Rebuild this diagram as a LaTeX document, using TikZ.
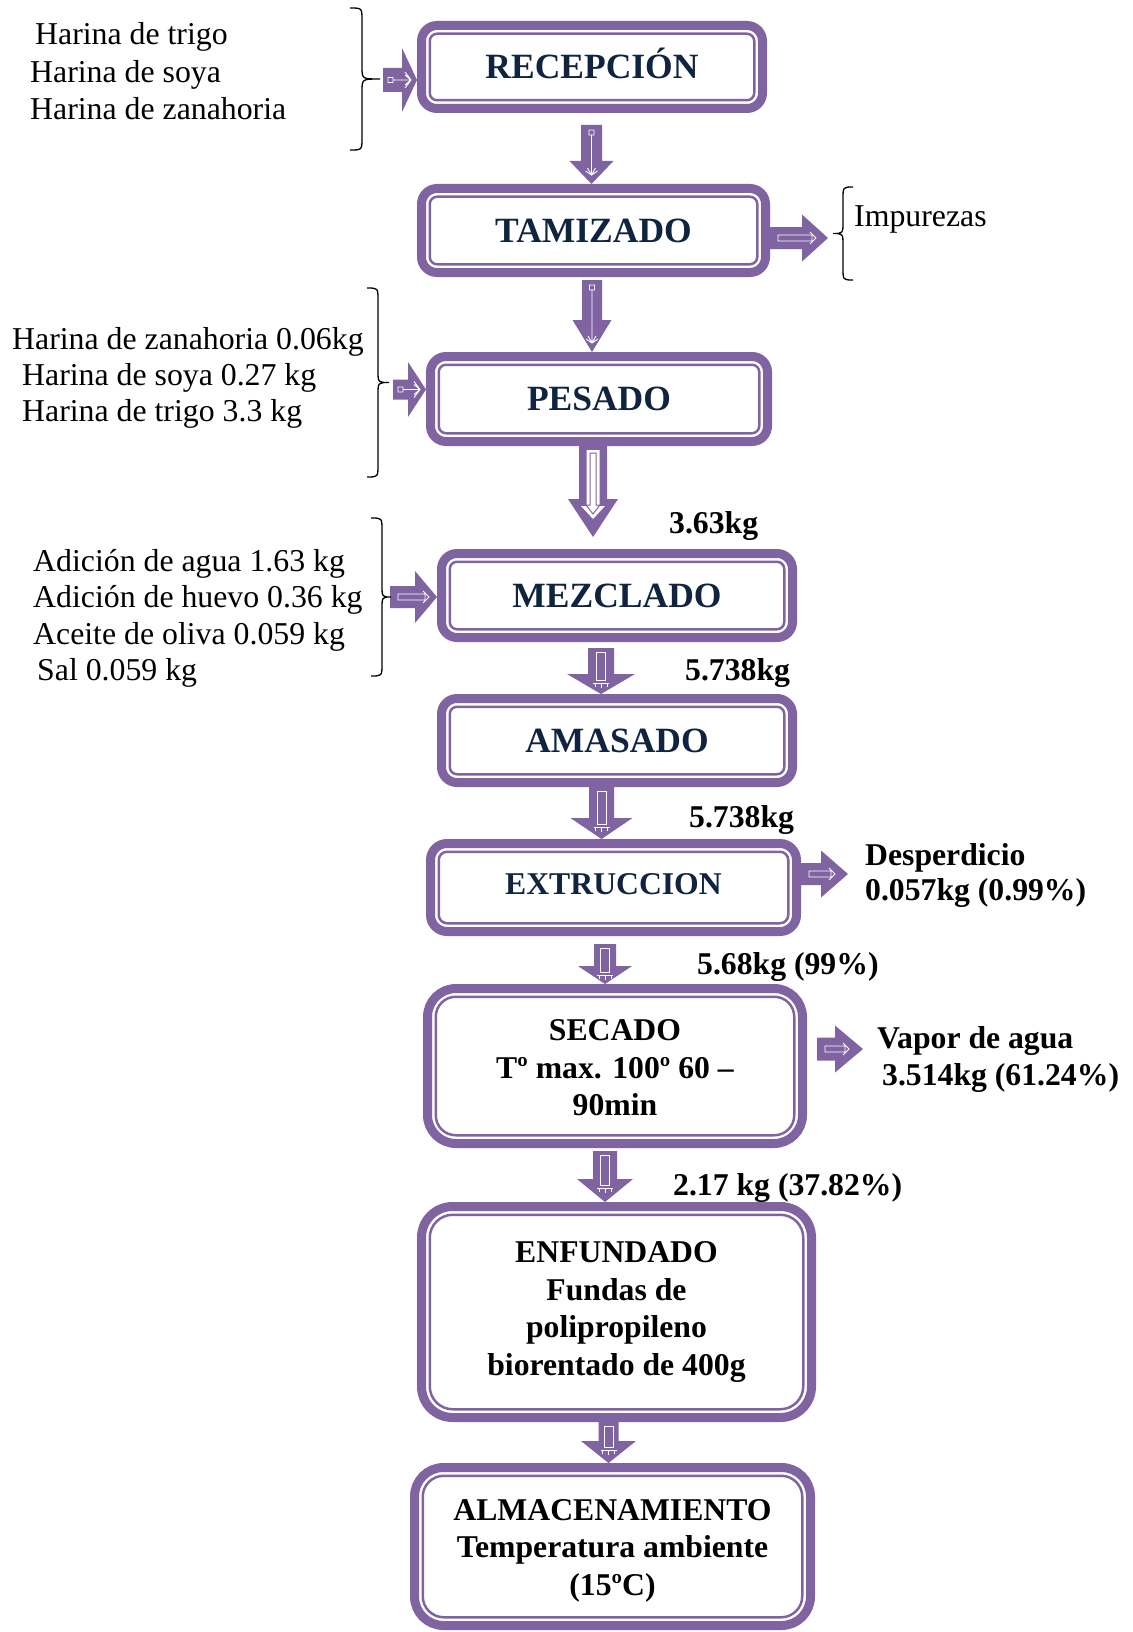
\documentclass[tikz,border=0pt]{standalone}
\usepackage{fontspec}
\setmainfont{Liberation Serif}
\usetikzlibrary{calc}

\definecolor{flowpurple}{HTML}{8064A2}
\definecolor{titleblue}{HTML}{10243F}

% block arrow pointing down: #1 tail (top centre of the shaft), #2 point giving the tip height,
% #3 shaft half-width, #4 head half-width, #5 head length
\newcommand{\blockdown}[5]{%
  \fill[flowfill] let \p1=(#1), \p2=(#2) in
    (\x1-#3,\y1) -- (\x1+#3,\y1) -- (\x1+#3,\y2+#5) -- (\x1+#4,\y2+#5)
    -- (\x1,\y2) -- (\x1-#4,\y2+#5) -- (\x1-#3,\y2+#5) -- cycle;}
% block arrow pointing right: #1 tail (left centre of the shaft), #2 point giving the tip abscissa
\newcommand{\blockright}[5]{%
  \fill[flowfill] let \p1=(#1), \p2=(#2) in
    (\x1,\y1+#3) -- (\x2-#5,\y1+#3) -- (\x2-#5,\y1+#4) -- (\x2,\y1)
    -- (\x2-#5,\y1-#4) -- (\x2-#5,\y1-#3) -- (\x1,\y1-#3) -- cycle;}

% fine white spine with a small square tail and a barbed end
\newcommand{\finelinedown}[2]{%
  \draw[spine] let \p1=(#1), \p2=(#2) in
    (\x1-2.5pt,\y1-5pt) rectangle (\x1+2.5pt,\y1-10pt)
    (\x1,\y1-10pt) -- (\x1,\y2+9pt)
    (\x1-4pt,\y2+16pt) -- (\x1,\y2+9pt) -- (\x1+4pt,\y2+16pt)
    (\x1-6pt,\y2+13pt) -- (\x1,\y2+9pt) -- (\x1+6pt,\y2+13pt);}
\newcommand{\finelineright}[2]{%
  \draw[spine] let \p1=(#1), \p2=(#2) in
    (\x1+5pt,\y1-2.5pt) rectangle (\x1+10pt,\y1+2.5pt)
    (\x1+10pt,\y1) -- (\x2-6pt,\y1)
    (\x2-12pt,\y1-5pt) -- (\x2-6pt,\y1) -- (\x2-12pt,\y1+5pt)
    (\x2-12pt,\y1-8pt) -- (\x2-6pt,\y1) -- (\x2-12pt,\y1+8pt);}

% narrow white slot along the shaft, ending inside the head
\newcommand{\slotdown}[3]{%
  \draw[spine] let \p1=(#1), \p2=(#2) in
    (\x1-4.5pt,\y1-4pt) rectangle (\x1+4.5pt,\y2+#3-6pt)
    (\x1-8pt,\y2+#3-9pt) -- (\x1+8pt,\y2+#3-9pt)
    (\x1-6pt,\y2+#3-9pt) -- (\x1-6pt,\y2+#3-13pt)
    (\x1+6pt,\y2+#3-9pt) -- (\x1+6pt,\y2+#3-13pt)
    (\x1,\y2+#3-9pt) -- (\x1,\y2+#3-14pt);}
\newcommand{\slotright}[3]{%
  \draw[spine] let \p1=(#1), \p2=(#2) in
    (\x1+8pt,\y1-3pt) rectangle (\x2-#3+10pt,\y1+3pt)
    (\x2-#3+8pt,\y1-6pt) -- (\x2-#3+14pt,\y1) -- (\x2-#3+8pt,\y1+6pt);}

% hollow centre of the wide arrow
\newcommand{\hollowdown}[2]{%
  \fill[white] let \p1=(#1), \p2=(#2) in
    (\x1-6.5pt,\y1-5pt) -- (\x1+6.5pt,\y1-5pt) -- (\x1+6.5pt,\y2+31pt) -- (\x1+12pt,\y2+31pt)
    -- (\x1,\y2+18pt) -- (\x1-12pt,\y2+31pt) -- (\x1-6.5pt,\y2+31pt) -- cycle;
  \draw[flowpurple, line width=1pt] let \p1=(#1), \p2=(#2) in
    (\x1-3pt,\y1-8pt) -- (\x1+3pt,\y1-8pt) -- (\x1+3pt,\y2+32pt) -- (\x1+7pt,\y2+32pt)
    -- (\x1,\y2+23pt) -- (\x1-7pt,\y2+32pt) -- (\x1-3pt,\y2+32pt) -- cycle;}

% thin inner line of a stage frame
\newcommand{\innerframe}[2]{%
  \draw[innerline, rounded corners=#2] ($(#1.north west)+(12.75,12.75)$) rectangle ($(#1.south east)-(12.75,12.75)$);}

% curly bracket: #1 x of the ends, #2 x of the spine, #3 x of the point, #4 top, #5 bottom
\newcommand{\curlybracket}[5]{%
  \draw[curly] let \n1={(#4+#5)/2} in
    (#1,#4) .. controls (#2,#4) .. (#2,#4+12) -- (#2,\n1-12)
    .. controls (#2,\n1) .. (#3,\n1) .. controls (#2,\n1) .. (#2,\n1+12)
    -- (#2,#5-12) .. controls (#2,#5) .. (#1,#5);}

\begin{document}
\begin{tikzpicture}[x=1pt,y=-1pt,
  flowfill/.style={fill=flowpurple},
  spine/.style={draw=white, line width=0.9pt},
  stage/.style={draw=flowpurple, line width=9pt, rounded corners=#1, fill=white,
                inner sep=0pt, outer sep=4.5pt, align=center},
  bigtitle/.style={text=titleblue, font=\fontsize{35.5pt}{40pt}\selectfont\bfseries,
                   text height=23.5pt, text depth=0pt},
  plaintitle/.style={font=\fontsize{31.7pt}{37.4pt}\selectfont\bfseries},
  innerline/.style={draw=flowpurple, line width=2.5pt},
  feed/.style={anchor=base west, inner sep=0pt, font=\fontsize{31.8pt}{36pt}\selectfont},
  mass/.style={anchor=base west, inner sep=0pt, font=\fontsize{31.7pt}{36pt}\selectfont\bfseries},
  curly/.style={draw=black, line width=1.3pt},
]
\fill[white] (0,0) rectangle (1132,1632);
\useasboundingbox (0,0) rectangle (1132,1632);

% process stages
\node[stage=15.5pt, bigtitle, minimum width=341pt, minimum height=83pt] (rec) at (592,67) {RECEPCIÓN};
\node[stage=15.5pt, bigtitle, minimum width=344pt, minimum height=84pt] (tam) at (593.5,230.5) {TAMIZADO};
\node[stage=15.5pt, bigtitle, minimum width=337pt, minimum height=85pt] (pes) at (599,399) {PESADO};
\node[stage=15.5pt, bigtitle, minimum width=351pt, minimum height=84pt] (mez) at (617,595.5) {MEZCLADO};
\node[stage=15.5pt, bigtitle, minimum width=351pt, minimum height=84pt] (ama) at (617,740.5) {AMASADO};
\node[stage=16.5pt, plaintitle, text=titleblue, text height=21pt, text depth=7pt,
      minimum width=366pt, minimum height=88pt] (ext) at (613.5,887.5) {EXTRUCCION};
\node[stage=28.5pt, plaintitle, minimum width=375pt, minimum height=155pt] (sec) at (615,1066)
     {\rule{0pt}{25pt}SECADO\\Tº max. 100º 60 –\\90min};
\node[stage=31pt, plaintitle, minimum width=390pt, minimum height=211pt] (enf) at (616.5,1312)
     {ENFUNDADO\\Fundas de\\polipropileno\\biorentado de 400g};
\node[stage=29pt, plaintitle, minimum width=396pt, minimum height=158pt] (alm) at (612.5,1546.5)
     {\rule{0pt}{29pt}ALMACENAMIENTO\\Temperatura ambiente\\(15ºC)};

\innerframe{rec}{7.25pt}
\innerframe{tam}{7.25pt}
\innerframe{pes}{7.25pt}
\innerframe{mez}{7.25pt}
\innerframe{ama}{7.25pt}
\innerframe{ext}{8.25pt}
\innerframe{sec}{20pt}
\innerframe{enf}{23pt}
\innerframe{alm}{21pt}

% main flow
\coordinate (d1) at ($(rec.south)+(-0.5,12)$);
\blockdown{d1}{tam.north}{10.5pt}{22pt}{23pt}
\finelinedown{d1}{tam.north}

\coordinate (d2) at ($(tam.south)+(-1.5,3)$);
\blockdown{d2}{pes.north}{10pt}{19.5pt}{32pt}
\finelinedown{d2}{pes.north}

\coordinate (d3) at ($(pes.south)+(-6,-1)$);
\coordinate (d3tip) at ($(mez.north)+(0,-12)$);
\blockdown{d3}{d3tip}{14pt}{25pt}{38pt}
\hollowdown{d3}{d3tip}

\coordinate (d4) at ($(mez.south)+(-16,6)$);
\blockdown{d4}{ama.north}{13pt}{34pt}{20pt}
\slotdown{d4}{ama.north}{20pt}

\coordinate (d5) at ($(ama.south)+(-15.5,0)$);
\blockdown{d5}{ext.north}{12.5pt}{31pt}{21pt}
\slotdown{d5}{ext.north}{21pt}

\coordinate (d6) at ($(ext.south)+(-8.5,8)$);
\blockdown{d6}{sec.north}{11pt}{27pt}{18pt}
\slotdown{d6}{sec.north}{18pt}

\coordinate (d7) at ($(sec.south)+(-10,3)$);
\blockdown{d7}{enf.north}{12pt}{28pt}{23pt}
\slotdown{d7}{enf.north}{23pt}

\coordinate (d8) at ($(enf.south)+(-8,0)$);
\blockdown{d8}{alm.north}{10pt}{27.5pt}{22pt}
\slotdown{d8}{alm.north}{22pt}

% outputs to the right
\coordinate (r1) at ($(tam.east)+(0,7.5)$);
\coordinate (r1tip) at (828,238);
\blockright{r1}{r1tip}{11pt}{23.5pt}{26pt}
\slotright{r1}{r1tip}{26pt}

\coordinate (r2) at ($(ext.east)+(0,-13.5)$);
\coordinate (r2tip) at (848,874);
\blockright{r2}{r2tip}{11pt}{23.5pt}{27pt}
\slotright{r2}{r2tip}{27pt}

\coordinate (r3) at ($(sec.east)+(10,-17)$);
\coordinate (r3tip) at (863,1049);
\blockright{r3}{r3tip}{11.5pt}{23.5pt}{28pt}
\slotright{r3}{r3tip}{28pt}

% inputs from the left
\coordinate (l1) at (383,80);
\blockright{l1}{rec.west}{12pt}{32pt}{15pt}
\finelineright{l1}{rec.west}

\coordinate (l2) at (393,389.5);
\blockright{l2}{pes.west}{10pt}{27.5pt}{18pt}
\finelineright{l2}{pes.west}

\coordinate (l3) at (390,597);
\blockright{l3}{mez.west}{11pt}{26pt}{22pt}
\slotright{l3}{mez.west}{22pt}

% brackets
\curlybracket{350}{362}{380}{8}{150}
\curlybracket{367}{378}{389}{288}{477}
\curlybracket{371}{382}{391}{518}{676}
\curlybracket{853}{843}{833}{187}{280}

% raw materials
\node[feed] (f1) at (35,45) {Harina de trigo};
\node[feed] (f2) at (30,83) {Harina de soya};
\node[feed] (f3) at (30,119.5) {Harina de zanahoria};

\node[feed] (g1) at (12,349) {Harina de zanahoria 0.06kg};
\node[feed] (g2) at (22,385.5) {Harina de soya 0.27 kg};
\node[feed] (g3) at (22,421) {Harina de trigo 3.3 kg};

\node[feed] (h1) at (33,571) {Adición de agua 1.63 kg};
\node[feed] (h2) at (33,607.5) {Adición de huevo 0.36 kg};
\node[feed] (h3) at (33,644) {Aceite de oliva 0.059 kg};
\node[feed] (h4) at (37,680) {Sal 0.059 kg};

\node[feed] (imp) at (854,226) {Impurezas};

% mass balance
\node[mass] (m1) at (669,533) {3.63kg};
\node[mass] (m2) at (685,680) {5.738kg};
\node[mass] (m3) at (689,827) {5.738kg};
\node[mass] (m4) at (697,974) {5.68kg (99\%)};
\node[mass] (m5) at (673,1195) {2.17 kg (37.82\%)};
\node[mass] (w1) at (865,865) {Desperdicio};
\node[mass] (w2) at (865,900) {0.057kg (0.99\%)};
\node[mass] (w3) at (877,1048) {Vapor de agua};
\node[mass] (w4) at (882,1085) {3.514kg (61.24\%)};
\end{tikzpicture}
\end{document}
